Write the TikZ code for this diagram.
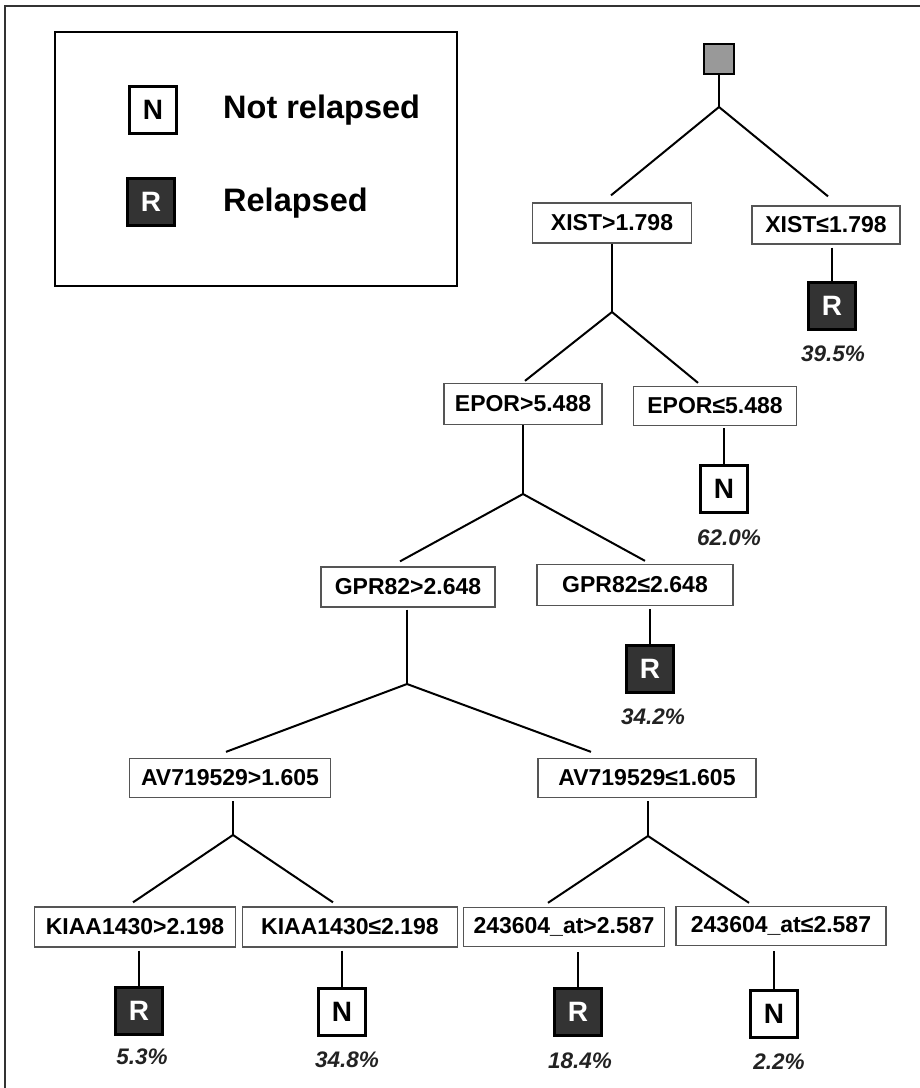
\documentclass[tikz,border=0pt]{standalone}
\usepackage{fontspec}
\setmainfont{Liberation Sans}
\usetikzlibrary{calc}
\definecolor{leafdark}{HTML}{333333}
\definecolor{rootgray}{HTML}{999999}
\definecolor{boxedge}{HTML}{555555}
\definecolor{pctcol}{HTML}{222222}
\tikzset{
  lbl/.style={draw=boxedge, line width=1.3pt, fill=white, minimum height=40pt, inner sep=0pt,
              font=\fontsize{23}{25}\selectfont\bfseries},
  leafR/.style={draw=black, line width=2.4pt, fill=leafdark, minimum width=47pt, minimum height=47pt,
              inner sep=0pt, text=white, font=\fontsize{28}{30}\selectfont\bfseries},
  leafN/.style={draw=black, line width=2.4pt, fill=white, minimum width=47pt, minimum height=47pt,
              inner sep=0pt, text=black, font=\fontsize{28}{30}\selectfont\bfseries},
  pct/.style={text=pctcol, inner sep=0pt, font=\fontsize{22.5}{24}\selectfont\bfseries\itshape},
  conn/.style={line width=2pt, black},
  legtext/.style={anchor=west, inner sep=0pt, font=\fontsize{32.5}{34}\selectfont\bfseries},
}
\begin{document}
\begin{tikzpicture}[x=1pt,y=-1pt]
\useasboundingbox (0,0) rectangle (920,1088);
% frame (top and left)
\draw[line width=2pt, color=leafdark] (920,6) -- (5,6) -- (5,1088);
% legend
\node[draw=black, line width=2.4pt, minimum width=402pt, minimum height=254pt, inner sep=0pt] (legend) at (256,159) {};
\node[leafN] (legN) at (153,110) {N};
\node[legtext] (legNt) at (223,110) {Not relapsed};
\node[leafR] (legR) at (151,202) {R};
\node[legtext] (legRt) at (223,203) {Relapsed};

% root
\node[draw=black, line width=2.4pt, fill=rootgray, minimum width=30pt, minimum height=30pt, inner sep=0pt] (root) at (719,59) {};

% label boxes
\node[lbl, minimum width=159pt] (xgt) at (612,223) {XIST>1.798};
\node[lbl, minimum width=148pt, minimum height=38pt] (xle) at (826,225) {XIST≤1.798};
\node[lbl, minimum width=158pt, minimum height=41pt] (egt) at (523,404) {EPOR>5.488};
\node[lbl, minimum width=163pt, minimum height=39pt] (ele) at (715,406) {EPOR≤5.488};
\node[lbl, minimum width=174pt] (ggt) at (408,587) {GPR82>2.648};
\node[lbl, minimum width=196pt, minimum height=41pt] (gle) at (635,585) {GPR82≤2.648};
\node[lbl, minimum width=201pt, minimum height=39pt] (agt) at (230,778) {AV719529>1.605};
\node[lbl, minimum width=218pt, minimum height=39pt] (ale) at (647,778) {AV719529≤1.605};
\node[lbl, minimum width=201pt] (kgt) at (135,927) {KIAA1430>2.198};
\node[lbl, minimum width=215pt] (kle) at (350,927) {KIAA1430≤2.198};
\node[lbl, minimum width=201pt, minimum height=39pt] (sgt) at (564,927) {243604\_at>2.587};
\node[lbl, minimum width=210pt, minimum height=39pt] (sle) at (781,926) {243604\_at≤2.587};

% leaves
\node[leafR] (l1) at (832,306) {R};
\node[pct] (p1) at (833,354) {39.5\%};
\node[leafN] (l2) at (724,489) {N};
\node[pct] (p2) at (729,538) {62.0\%};
\node[leafR] (l3) at (650,669) {R};
\node[pct] (p3) at (653,717) {34.2\%};
\node[leafR] (l4) at (139,1011) {R};
\node[pct] (p4) at (142,1057) {5.3\%};
\node[leafN] (l5) at (342,1012) {N};
\node[pct] (p5) at (347,1060) {34.8\%};
\node[leafR] (l6) at (578,1012) {R};
\node[pct] (p6) at (580,1061) {18.4\%};
\node[leafN] (l7) at (774,1014) {N};
\node[pct] (p7) at (779,1062) {2.2\%};

% junctions
\coordinate (j0) at (719,107);
\coordinate (j1) at (612,312);
\coordinate (j2) at (523,494);
\coordinate (j3) at (407,684);
\coordinate (j4) at (233,835);
\coordinate (j5) at (648,836);

% connectors
\draw[conn] (root.south) -- (j0);
\draw[conn] ($(xgt.north)+(-1,-7)$) -- (j0) -- ($(xle.north)+(2,-9)$);
\draw[conn] (j1 |- xgt.south) -- (j1);
\draw[conn] ($(egt.north)+(2,-2)$) -- (j1) -- ($(ele.north)+(-17,-3)$);
\draw[conn] (j2 |- egt.south) -- (j2);
\draw[conn] ($(ggt.north)+(-8,-5)$) -- (j2) -- ($(gle.north)+(10,-3)$);
\draw[conn] ($(j3 |- ggt.south)+(0,2)$) -- (j3);
\draw[conn] ($(agt.north)+(-4,-6)$) -- (j3) -- ($(ale.north)+(-56,-6)$);
\draw[conn] ($(j4 |- agt.south)+(0,3)$) -- (j4);
\draw[conn] ($(kgt.north)+(-2,-4)$) -- (j4) -- ($(kle.north)+(-17,-4)$);
\draw[conn] ($(j5 |- ale.south)+(0,3)$) -- (j5);
\draw[conn] ($(sgt.north)+(-16,-4)$) -- (j5) -- ($(sle.north)+(-32,-3)$);

% leaf connectors
\draw[conn] ($(l1.north |- xle.south)+(0,3)$) -- (l1.north);
\draw[conn] ($(l2.north |- ele.south)+(0,2)$) -- (l2.north);
\draw[conn] ($(l3.north |- gle.south)+(0,3)$) -- (l3.north);
\draw[conn] ($(l4.north |- kgt.south)+(0,3)$) -- (l4.north);
\draw[conn] ($(l5.north |- kle.south)+(0,3)$) -- (l5.north);
\draw[conn] ($(l6.north |- sgt.south)+(0,5)$) -- (l6.north);
\draw[conn] ($(l7.north |- sle.south)+(0,5)$) -- (l7.north);
\end{tikzpicture}
\end{document}
